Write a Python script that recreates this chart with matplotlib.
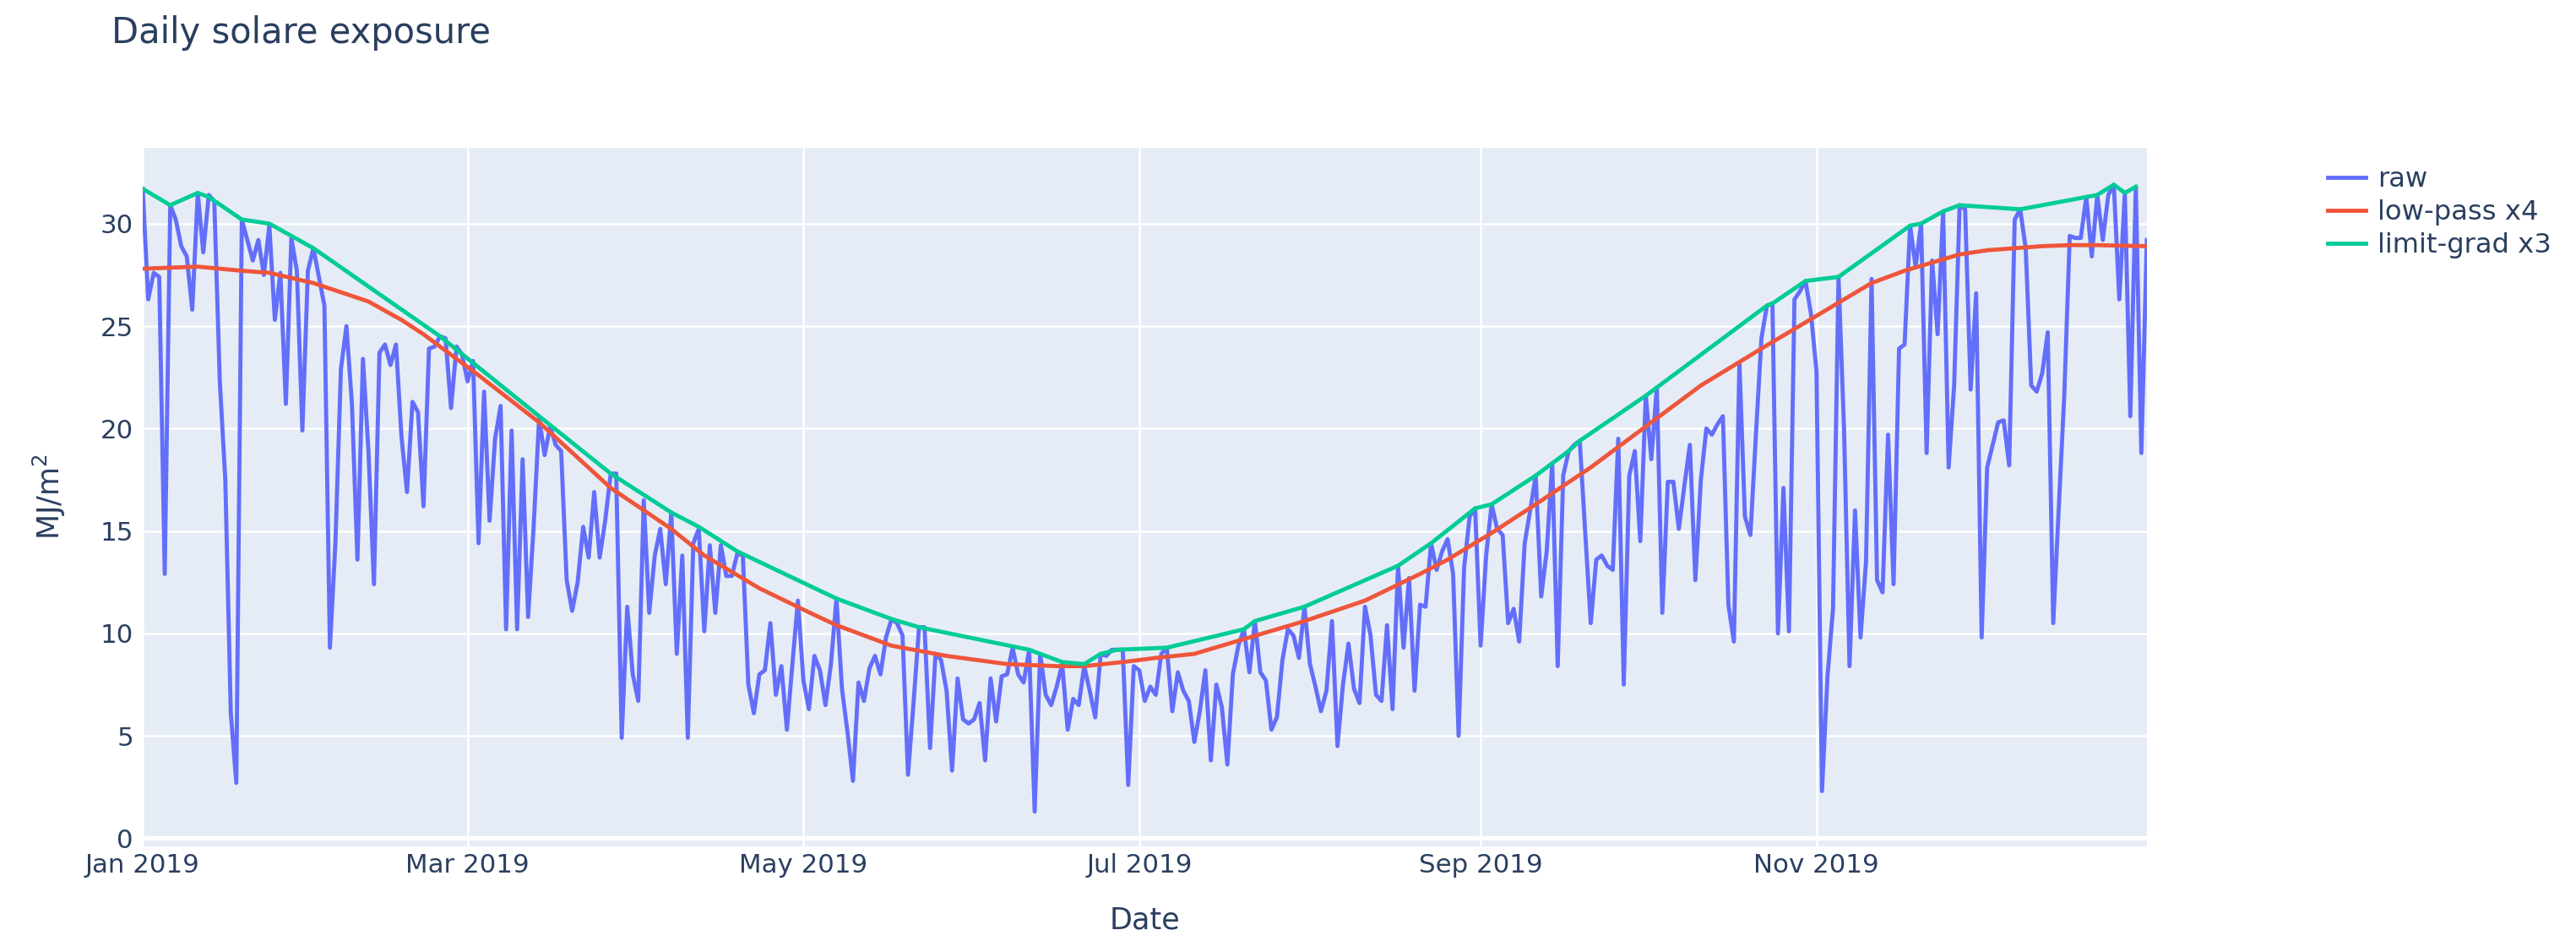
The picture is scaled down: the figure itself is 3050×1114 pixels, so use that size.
import matplotlib
matplotlib.use("Agg")
import matplotlib.pyplot as plt
import matplotlib.dates as mdates
import numpy as np
import pandas as pd

# raw daily exposure, Jan 1 .. Dec 31 2019
raw = [
    31.7, 26.3, 27.6, 27.4, 12.9, 30.9, 30.2, 28.9, 28.4, 25.8,
    31.5, 28.6, 31.4, 31.1, 22.3, 17.5, 6.1, 2.7, 30.2, 29.2,
    28.2, 29.2, 27.5, 29.9, 25.3, 27.6, 21.2, 29.3, 27.7, 19.9,
    27.7, 28.8, 27.4, 26.0, 9.3, 14.4, 22.9, 25.0, 21.2, 13.6,
    23.4, 18.9, 12.4, 23.7, 24.1, 23.1, 24.1, 19.6, 16.9, 21.3,
    20.8, 16.2, 23.9, 24.0, 24.5, 24.4, 21.0, 24.0, 23.6, 22.3,
    23.3, 14.4, 21.8, 15.5, 19.5, 21.1, 10.2, 19.9, 10.2, 18.5,
    10.8, 15.2, 20.5, 18.7, 20.1, 19.2, 18.9, 12.6, 11.1, 12.5,
    15.2, 13.7, 16.9, 13.7, 15.5, 17.8, 17.8, 4.9, 11.3, 8.0,
    6.7, 16.5, 11.0, 13.8, 15.1, 12.4, 15.9, 9.0, 13.8, 4.9,
    14.4, 15.1, 10.1, 14.3, 11.0, 14.3, 12.8, 12.8, 13.9, 13.8,
    7.5, 6.1, 8.0, 8.2, 10.5, 7.0, 8.4, 5.3, 8.5, 11.6,
    7.7, 6.3, 8.9, 8.2, 6.5, 8.5, 11.7, 7.3, 5.2, 2.8,
    7.6, 6.7, 8.3, 8.9, 8.0, 9.8, 10.7, 10.5, 9.9, 3.1,
    6.6, 10.3, 10.3, 4.4, 9.0, 8.7, 7.2, 3.3, 7.8, 5.8,
    5.6, 5.8, 6.6, 3.8, 7.8, 5.7, 7.9, 8.0, 9.3, 8.0,
    7.6, 9.2, 1.3, 9.0, 7.0, 6.5, 7.4, 8.5, 5.3, 6.8,
    6.5, 8.4, 7.2, 5.9, 9.0, 8.9, 9.2, 9.2, 9.2, 2.6,
    8.4, 8.2, 6.7, 7.4, 7.0, 9.0, 9.3, 6.2, 8.1, 7.2,
    6.7, 4.7, 6.2, 8.2, 3.8, 7.5, 6.4, 3.6, 8.0, 9.4,
    10.2, 8.1, 10.6, 8.1, 7.7, 5.3, 5.9, 8.7, 10.2, 9.9,
    8.8, 11.3, 8.5, 7.4, 6.2, 7.2, 10.6, 4.5, 7.5, 9.5,
    7.3, 6.6, 11.3, 9.9, 7.0, 6.7, 10.4, 6.3, 13.3, 9.3,
    12.7, 7.2, 11.4, 11.3, 14.4, 13.1, 14.0, 14.6, 12.9, 5.0,
    13.2, 15.7, 16.1, 9.4, 13.8, 16.3, 15.1, 14.8, 10.5, 11.2,
    9.6, 14.4, 16.0, 17.7, 11.8, 14.0, 18.3, 8.4, 17.7, 18.9,
    19.2, 19.4, 14.9, 10.5, 13.6, 13.8, 13.3, 13.1, 19.5, 7.5,
    17.7, 18.9, 14.5, 21.6, 18.5, 22.0, 11.0, 17.4, 17.4, 15.1,
    17.2, 19.2, 12.6, 17.5, 20.0, 19.7, 20.2, 20.6, 11.4, 9.6,
    23.2, 15.7, 14.8, 19.7, 24.4, 26.0, 26.1, 10.0, 17.1, 10.1,
    26.3, 26.7, 27.2, 25.6, 22.8, 2.3, 7.9, 11.2, 27.4, 20.0,
    8.4, 16.0, 9.8, 13.5, 27.3, 12.6, 12.0, 19.7, 12.4, 23.9,
    24.1, 29.9, 27.9, 30.0, 18.8, 28.2, 24.6, 30.6, 18.1, 22.1,
    30.9, 30.7, 21.9, 26.6, 9.8, 18.1, 19.2, 20.3, 20.4, 18.2,
    30.2, 30.7, 28.8, 22.1, 21.8, 22.7, 24.7, 10.5, 16.1, 21.6,
    29.4, 29.3, 29.3, 31.3, 28.4, 31.4, 29.2, 31.4, 31.9, 26.3,
    31.5, 20.6, 31.8, 18.8, 29.2,
]

# low-pass x4 (day of year, value)
lp_days = [0, 10, 18, 23, 31, 41, 47, 51, 55, 61, 72, 85, 96, 102, 112, 122,
           126, 136, 146, 157, 166, 171, 178, 184, 191, 201, 211, 222, 232,
           237, 245, 253, 263, 273, 283, 294, 304, 309, 314, 320, 325, 330,
           335, 340, 345, 350, 355, 364]
lp_vals = [27.8, 27.9, 27.7, 27.6, 27.1, 26.2, 25.3, 24.6, 23.8, 22.6, 20.3,
           17.1, 15.1, 13.8, 12.2, 10.9, 10.4, 9.4, 8.9, 8.5, 8.4, 8.4, 8.6,
           8.8, 9.0, 9.8, 10.6, 11.6, 12.9, 13.6, 14.9, 16.3, 18.1, 20.1,
           22.1, 23.9, 25.5, 26.3, 27.1, 27.7, 28.1, 28.5, 28.7, 28.8, 28.9,
           28.95, 28.95, 28.9]

# limit-grad x3 (day of year, value)
lg_days = [0, 5, 10, 12, 18, 23, 31, 54, 72, 85, 96, 101, 108, 126, 136, 141,
           161, 167, 171, 174, 177, 186, 200, 202, 211, 228, 234, 242, 245,
           253, 256, 259, 261, 273, 275, 295, 296, 302, 308, 321, 323, 327,
           330, 341, 355, 358, 360, 362]
lg_vals = [31.7, 30.9, 31.5, 31.3, 30.2, 30.0, 28.8, 24.5, 20.6, 17.8, 15.9,
           15.2, 14.0, 11.7, 10.7, 10.3, 9.2, 8.6, 8.5, 9.0, 9.2, 9.3, 10.2,
           10.6, 11.3, 13.3, 14.4, 16.1, 16.3, 17.7, 18.3, 18.9, 19.4, 21.6,
           22.0, 26.0, 26.1, 27.2, 27.4, 29.9, 30.0, 30.6, 30.9, 30.7, 31.4,
           31.9, 31.5, 31.8]

start = pd.Timestamp("2019-01-01")
dates = pd.date_range(start, periods=len(raw), freq="D")
lp_dates = start + pd.to_timedelta(lp_days, unit="D")
lg_dates = start + pd.to_timedelta(lg_days, unit="D")

txt = "#2a3f5f"
plt.rcParams["font.family"] = ["DejaVu Sans"]
plt.rcParams["mathtext.fontset"] = "dejavusans"
plt.rcParams["mathtext.default"] = "regular"

fig = plt.figure(figsize=(15.25, 5.57), dpi=200)
ax = fig.add_axes([0.0554, 0.1005, 0.7780, 0.7424])
ax.set_facecolor("#E5ECF6")
for s in ax.spines.values():
    s.set_visible(False)

ax.plot(dates, raw, color="#636EFA", lw=1.75, label="raw", zorder=3)
ax.plot(lp_dates, lp_vals, color="#EF553B", lw=1.75, label="low-pass x4", zorder=4)
ax.plot(lg_dates, lg_vals, color="#00CC96", lw=1.75, label="limit-grad x3", zorder=5)

ax.set_xlim(pd.Timestamp("2019-01-01"), pd.Timestamp("2019-12-31"))
ax.set_ylim(-0.4, 33.7)
ax.set_yticks(np.arange(0, 31, 5))
ax.xaxis.set_major_locator(mdates.MonthLocator(bymonth=[1, 3, 5, 7, 9, 11]))
ax.xaxis.set_major_formatter(mdates.DateFormatter("%b %Y"))
ax.grid(True, color="white", lw=0.9, zorder=1)
ax.set_axisbelow(True)
ax.axhline(0, color="white", lw=1.8, zorder=2)
ax.tick_params(length=0, labelsize=11.1, labelcolor=txt)
ax.tick_params(axis="y", pad=4)
ax.tick_params(axis="x", pad=3)

fig.text(132 / 3050, 1 - 39 / 1114, "Daily solare exposure", fontsize=15,
         color=txt, va="center", ha="left")
fig.text(0.4445, 1 - 1089 / 1114, "Date", fontsize=12.6, color=txt,
         ha="center", va="center")
fig.text(58 / 3050, 0.1005 + 0.7424 / 2, "MJ/m$^2$", fontsize=12.6, color=txt,
         rotation=90, ha="center", va="center")

fig.legend(loc="upper left", bbox_to_anchor=(2756 / 3050, 1 - 197 / 1114),
           frameon=False, fontsize=11.6, labelcolor=txt, borderpad=0,
           borderaxespad=0, handlelength=1.4, handletextpad=0.42,
           labelspacing=0.25)

fig.savefig("out.png", dpi=200)
